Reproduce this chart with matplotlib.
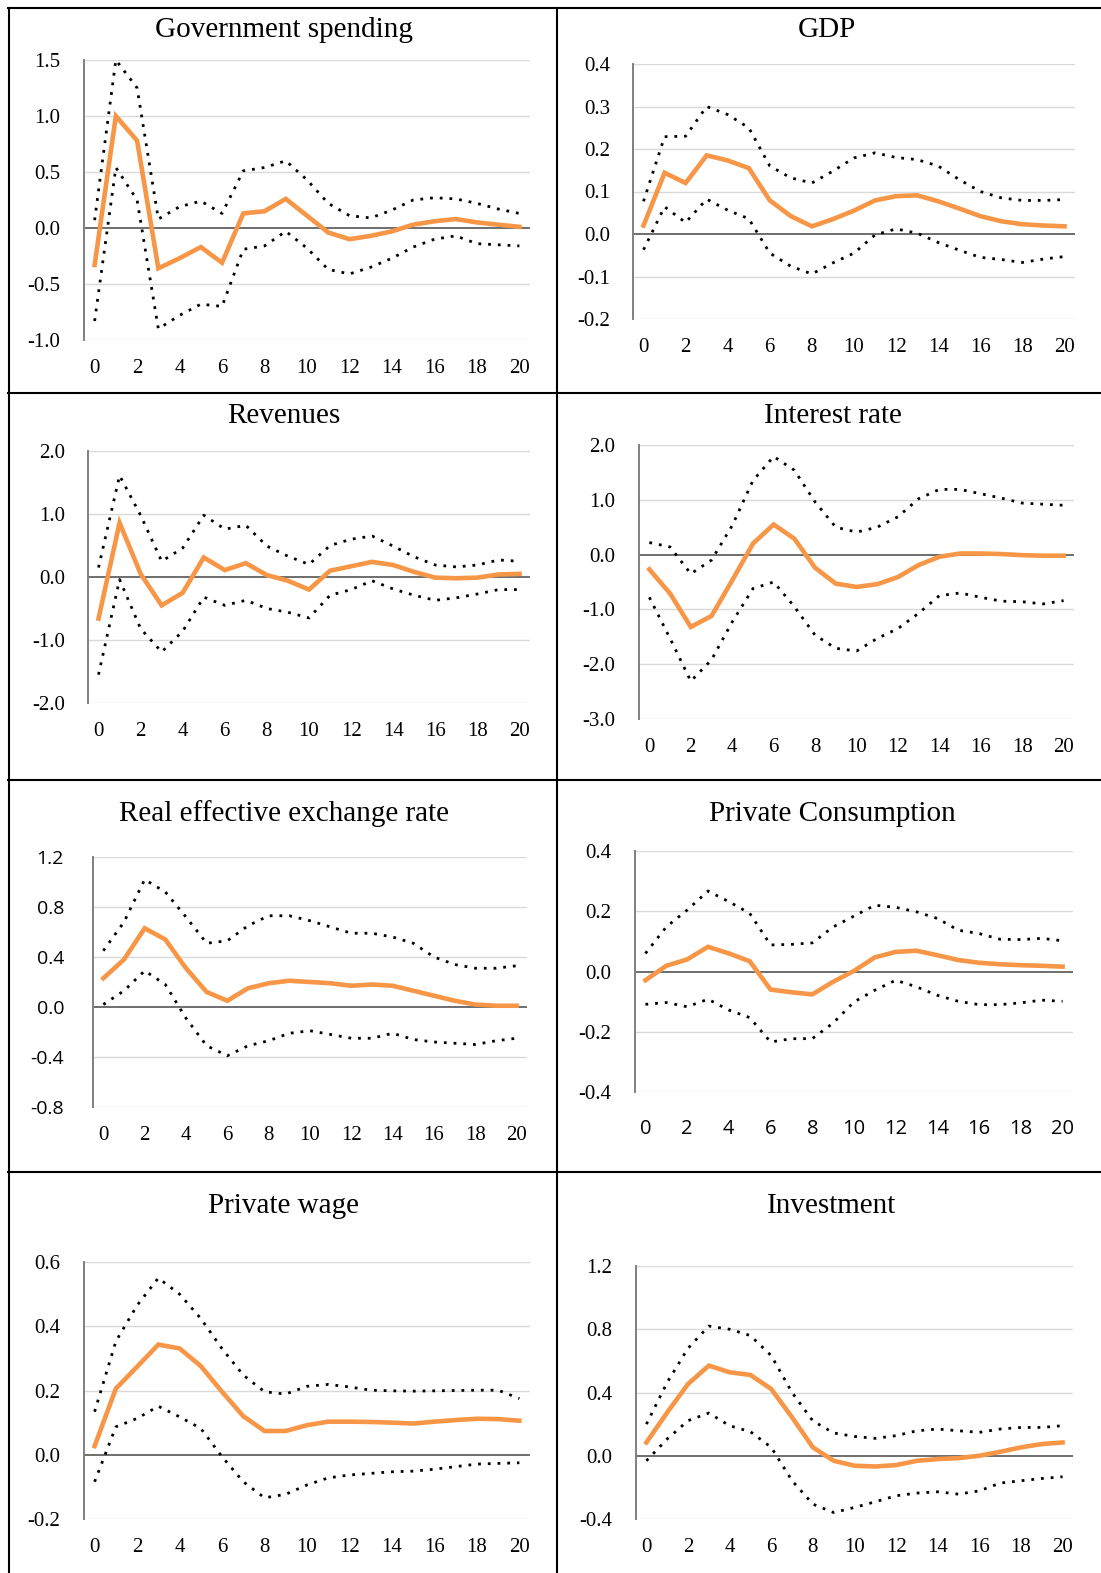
import matplotlib
matplotlib.use("Agg")
import matplotlib.pyplot as plt
from matplotlib.lines import Line2D
import numpy as np

# Horizonte de las funciones impulso-respuesta (trimestres)
horizonte = list(range(21))

# Government spending
gasto_irf = [-0.33, 1.00, 0.78, -0.36, -0.27, -0.17, -0.31, 0.13, 0.15, 0.26, 0.11,
             -0.04, -0.10, -0.07, -0.03, 0.03, 0.06, 0.08, 0.05, 0.03, 0.01]
gasto_sup = [0.07, 1.50, 1.25, 0.08, 0.19, 0.24, 0.13, 0.51, 0.54, 0.60, 0.43,
             0.22, 0.11, 0.09, 0.16, 0.25, 0.27, 0.26, 0.22, 0.17, 0.13]
gasto_inf = [-0.83, 0.54, 0.25, -0.90, -0.78, -0.68, -0.70, -0.19, -0.16, -0.03, -0.18,
             -0.37, -0.41, -0.35, -0.27, -0.17, -0.10, -0.07, -0.14, -0.15, -0.16]

# GDP
pib_irf = [0.020, 0.144, 0.120, 0.185, 0.173, 0.155, 0.079, 0.042, 0.018, 0.035, 0.055,
           0.079, 0.089, 0.091, 0.077, 0.060, 0.042, 0.030, 0.023, 0.020, 0.018]
pib_sup = [0.077, 0.229, 0.230, 0.300, 0.281, 0.250, 0.160, 0.132, 0.120, 0.148, 0.179,
           0.191, 0.180, 0.175, 0.160, 0.128, 0.100, 0.085, 0.079, 0.079, 0.081]
pib_inf = [-0.037, 0.064, 0.027, 0.082, 0.056, 0.036, -0.045, -0.076, -0.094, -0.068, -0.045,
           -0.002, 0.012, 0.002, -0.020, -0.038, -0.055, -0.060, -0.067, -0.059, -0.053]

# Revenues
ingresos_irf = [-0.66, 0.86, 0.05, -0.45, -0.25, 0.31, 0.11, 0.22, 0.03, -0.06, -0.20,
                0.10, 0.17, 0.24, 0.19, 0.08, -0.01, -0.02, -0.01, 0.04, 0.05]
ingresos_sup = [0.15, 1.61, 0.98, 0.25, 0.46, 0.98, 0.76, 0.82, 0.49, 0.33, 0.20,
                0.50, 0.60, 0.65, 0.49, 0.32, 0.19, 0.16, 0.19, 0.27, 0.25]
ingresos_inf = [-1.55, -0.04, -0.82, -1.19, -0.86, -0.32, -0.45, -0.37, -0.50, -0.56, -0.65,
                -0.29, -0.20, -0.06, -0.19, -0.29, -0.37, -0.33, -0.27, -0.20, -0.20]

# Interest rate
tasa_irf = [-0.27, -0.71, -1.32, -1.12, -0.47, 0.20, 0.55, 0.29, -0.24, -0.53, -0.59,
            -0.54, -0.41, -0.19, -0.04, 0.02, 0.02, 0.01, -0.01, -0.02, -0.02]
tasa_sup = [0.22, 0.14, -0.35, -0.10, 0.53, 1.35, 1.79, 1.54, 0.96, 0.50, 0.41,
            0.50, 0.69, 1.02, 1.19, 1.19, 1.11, 1.03, 0.94, 0.92, 0.90]
tasa_inf = [-0.78, -1.53, -2.31, -1.92, -1.23, -0.62, -0.50, -0.95, -1.47, -1.71, -1.76,
            -1.53, -1.35, -1.07, -0.75, -0.70, -0.78, -0.85, -0.86, -0.90, -0.84]

# Real effective exchange rate
tcre_irf = [0.23, 0.38, 0.63, 0.54, 0.31, 0.12, 0.05, 0.15, 0.19, 0.21, 0.20,
            0.19, 0.17, 0.18, 0.17, 0.13, 0.09, 0.05, 0.02, 0.01, 0.01]
tcre_sup = [0.45, 0.68, 1.02, 0.92, 0.72, 0.51, 0.53, 0.65, 0.73, 0.73, 0.69,
            0.64, 0.59, 0.59, 0.56, 0.51, 0.40, 0.34, 0.31, 0.31, 0.33]
tcre_inf = [0.02, 0.13, 0.29, 0.18, -0.09, -0.31, -0.39, -0.31, -0.27, -0.21, -0.19,
            -0.22, -0.25, -0.25, -0.21, -0.26, -0.28, -0.29, -0.30, -0.27, -0.25]

# Private Consumption
consumo_irf = [-0.029, 0.019, 0.040, 0.082, 0.060, 0.034, -0.060, -0.069, -0.076, -0.034, 0.002,
               0.047, 0.065, 0.069, 0.054, 0.038, 0.029, 0.024, 0.021, 0.019, 0.016]
consumo_sup = [0.060, 0.148, 0.204, 0.267, 0.232, 0.193, 0.088, 0.090, 0.095, 0.148, 0.184,
               0.220, 0.213, 0.198, 0.176, 0.137, 0.126, 0.107, 0.106, 0.110, 0.102]
consumo_inf = [-0.109, -0.103, -0.117, -0.092, -0.128, -0.153, -0.234, -0.223, -0.223, -0.171, -0.101,
               -0.062, -0.029, -0.051, -0.079, -0.099, -0.110, -0.110, -0.104, -0.095, -0.099]

# Private wage
salario_irf = [0.027, 0.206, 0.274, 0.343, 0.331, 0.276, 0.196, 0.120, 0.074, 0.074, 0.092,
               0.103, 0.103, 0.102, 0.100, 0.097, 0.103, 0.108, 0.112, 0.111, 0.106]
salario_sup = [0.134, 0.353, 0.465, 0.550, 0.500, 0.424, 0.330, 0.248, 0.196, 0.189, 0.213,
               0.219, 0.211, 0.201, 0.199, 0.198, 0.199, 0.200, 0.201, 0.201, 0.175]
salario_inf = [-0.084, 0.087, 0.113, 0.151, 0.118, 0.082, -0.006, -0.084, -0.134, -0.123, -0.094,
               -0.072, -0.063, -0.058, -0.053, -0.051, -0.045, -0.037, -0.029, -0.027, -0.025]

# Investment
inversion_irf = [0.084, 0.274, 0.454, 0.570, 0.528, 0.511, 0.422, 0.243, 0.053, -0.032, -0.063,
                 -0.068, -0.059, -0.032, -0.021, -0.015, 0.000, 0.025, 0.053, 0.074, 0.084]
inversion_sup = [0.200, 0.464, 0.680, 0.820, 0.800, 0.760, 0.633, 0.400, 0.220, 0.144, 0.122,
                 0.110, 0.127, 0.158, 0.169, 0.158, 0.148, 0.169, 0.179, 0.179, 0.190]
inversion_inf = [-0.032, 0.106, 0.222, 0.270, 0.190, 0.152, 0.053, -0.158, -0.306, -0.359, -0.327,
                 -0.291, -0.253, -0.236, -0.228, -0.243, -0.222, -0.173, -0.158, -0.144, -0.133]

W, H = 1101, 1573
NARANJA = '#F79646'
SERIF = 'Liberation Serif'
SANS = 'Open Sans'

plt.rcParams['font.family'] = SERIF

fig = plt.figure(figsize=(W / 100, H / 100), dpi=100)
fig.patch.set_facecolor('white')

# (titulo, irf, sup, inf, ymin, ymax, paso, rect px [izq, arr, der, abj], centro titulo px,
#  fuente y, fuente x, pad y (px), pad x (pt))
paneles = [
    ('Government spending', gasto_irf, gasto_sup, gasto_inf, -1.0, 1.5, 0.5,
     [84, 60, 530, 340], (284, 30), SERIF, SERIF, 24, 14),
    ('GDP', pib_irf, pib_sup, pib_inf, -0.2, 0.4, 0.1,
     [633, 64, 1075, 319], (827, 30), SERIF, SERIF, 23, 14),
    ('Revenues', ingresos_irf, ingresos_sup, ingresos_inf, -2.0, 2.0, 1.0,
     [88, 451, 530, 703], (284, 416), SERIF, SERIF, 23, 14),
    ('Interest rate', tasa_irf, tasa_sup, tasa_inf, -3.0, 2.0, 1.0,
     [639, 445, 1074, 719], (833, 416), SERIF, SERIF, 24, 14),
    ('Real effective exchange rate', tcre_irf, tcre_sup, tcre_inf, -0.8, 1.2, 0.4,
     [93, 857, 527, 1107], (284, 814), SANS, SERIF, 29, 14),
    ('Private Consumption', consumo_irf, consumo_sup, consumo_inf, -0.4, 0.4, 0.2,
     [635, 851, 1073, 1092], (832, 814), SERIF, SANS, 24, 19.5),
    ('Private wage', salario_irf, salario_sup, salario_inf, -0.2, 0.6, 0.2,
     [84, 1262, 530, 1519], (284, 1206), SERIF, SERIF, 24, 14),
    ('Investment', inversion_irf, inversion_sup, inversion_inf, -0.4, 1.2, 0.4,
     [636, 1266, 1073, 1519], (832, 1206), SERIF, SERIF, 24, 14),
]

for (titulo, irf, sup, inf, ymin, ymax, paso, rect, centro, fuente_y, fuente_x, pad_y, pad_x) in paneles:
    izq, arr, der, abj = rect
    ax = fig.add_axes([izq / W, 1 - abj / H, (der - izq) / W, (abj - arr) / H])

    yticks = np.round(np.arange(ymin, ymax + paso / 2, paso), 2)
    ax.set_xlim(-0.5, 20.5)
    ax.set_ylim(ymin, ymax)

    # cuadricula horizontal clara y eje en cero
    for yt in yticks:
        if abs(yt) > 1e-9:
            ax.axhline(yt, color='#D9D9D9', lw=1.0, zorder=0)
    ax.axhline(0, color='#6E6E6E', lw=1.4, zorder=1)

    # bandas de confianza punteadas y respuesta media
    ax.plot(horizonte, sup, color='black', lw=2.0, linestyle=(0, (1, 2.5)), zorder=2)
    ax.plot(horizonte, inf, color='black', lw=2.0, linestyle=(0, (1, 2.5)), zorder=2)
    ax.plot(horizonte, irf, color=NARANJA, lw=3.3, solid_joinstyle='miter', zorder=3)

    for lado in ['top', 'right', 'bottom']:
        ax.spines[lado].set_visible(False)
    ax.spines['left'].set_color('#808080')
    ax.spines['left'].set_linewidth(1.4)

    ax.set_yticks(yticks)
    tam_y = 14 if fuente_y == SANS else 15
    ax.set_yticklabels([f'{v:.1f}' for v in yticks], family=fuente_y, fontsize=tam_y)
    ax.set_xticks(range(0, 21, 2))
    tam_x = 14.5 if fuente_x == SANS else 15
    ax.set_xticklabels([str(v) for v in range(0, 21, 2)], family=fuente_x, fontsize=tam_x)
    ax.tick_params(axis='y', length=0, pad=pad_y * 0.72)
    ax.tick_params(axis='x', length=0, pad=pad_x)
    ax.set_facecolor('white')

    fig.text(centro[0] / W, 1 - centro[1] / H, titulo, ha='center', va='center',
             fontsize=21, family=SERIF)

# bordes de la tabla que contiene los graficos
bordes = [
    ((8.5, 8.5), (8, H)),
    ((556.5, 556.5), (8, H)),
    ((8, W), (8, 8)),
    ((8, W), (393, 393)),
    ((8, W), (780, 780)),
    ((8, W), (1172, 1172)),
]
for xs, ys in bordes:
    fig.add_artist(Line2D([x / W for x in xs], [1 - y / H for y in ys],
                          color='black', lw=1.5, transform=fig.transFigure))

fig.savefig('out.png', dpi=100, facecolor='white')
